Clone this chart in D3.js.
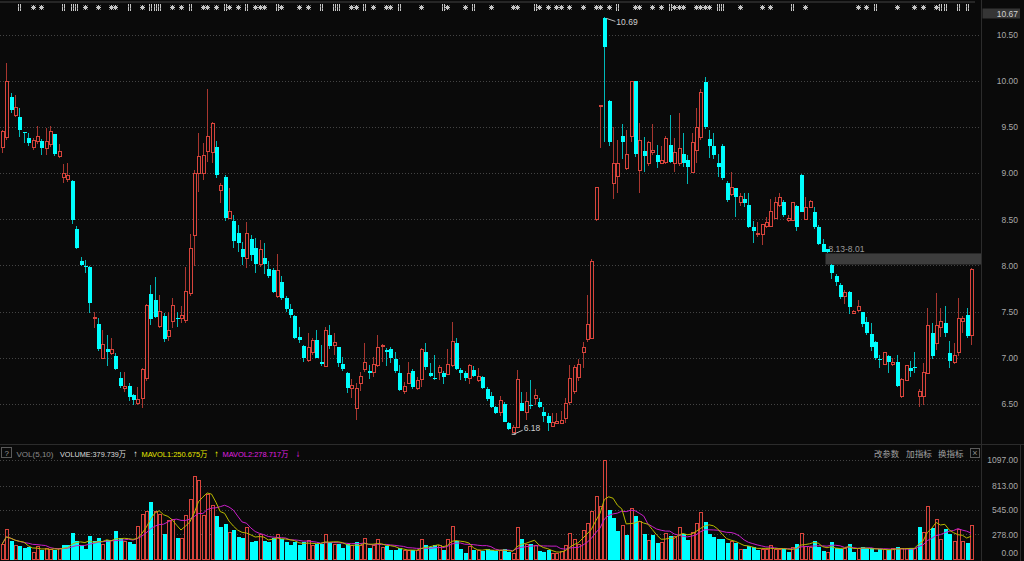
<!DOCTYPE html>
<html><head><meta charset="utf-8">
<script src="https://cdn.jsdelivr.net/npm/d3@7"></script>
<style>html,body{margin:0;padding:0;background:#0a0a0a;overflow:hidden}</style>
</head><body><svg id="c" width="1024" height="561"></svg>
<script>
const openP=[9.28,9.39,9.83,9.63,9.61,9.45,9.38,9.28,9.34,9.35,9.27,9.31,9.42,9.18,8.95,8.93,8.91,8.40,8.05,7.99,7.98,7.42,7.36,6.99,7.09,7.04,7.02,6.78,6.66,6.69,6.59,6.50,6.56,6.77,7.69,7.62,7.34,7.45,7.23,7.39,7.43,7.42,7.40,7.69,8.32,9.00,9.00,9.23,9.22,9.28,8.81,8.96,8.51,8.48,8.35,8.18,8.08,8.29,8.19,8.01,8.08,7.96,7.95,7.66,7.82,7.65,7.53,7.45,7.22,7.13,6.97,7.05,7.19,6.95,6.90,7.24,7.13,7.11,6.93,6.83,6.66,6.45,6.72,6.87,6.86,6.84,6.91,7.12,7.08,7.09,6.98,6.83,6.63,6.72,6.86,6.66,6.76,7.06,6.83,6.78,6.84,6.83,6.82,6.91,7.16,6.87,6.83,6.77,6.87,6.75,6.79,6.66,6.58,6.46,6.40,6.50,6.29,6.19,6.24,6.51,6.40,6.49,6.56,6.52,6.41,6.37,6.25,6.29,6.29,6.34,6.51,6.63,6.78,7.05,7.20,7.21,8.50,9.72,10.68,9.78,8.89,8.96,9.40,9.05,9.40,10.00,9.03,9.24,9.10,9.22,9.20,9.11,9.12,9.31,9.10,9.11,9.21,9.14,9.01,9.25,9.39,9.99,9.37,9.30,9.11,9.30,8.89,8.77,8.84,8.68,8.72,8.65,8.42,8.33,8.33,8.42,8.42,8.51,8.65,8.69,8.49,8.49,8.64,8.98,8.50,8.63,8.58,8.42,8.23,8.18,8.00,7.88,7.79,7.66,7.71,7.48,7.51,7.49,7.39,7.26,7.17,6.99,6.93,7.02,6.93,6.95,6.58,6.75,6.89,6.90,6.58,6.58,6.83,7.27,7.15,7.33,7.38,7.05,6.95,7.05,7.39,7.46,7.24];
const highP=[9.47,10.20,9.87,9.85,9.71,9.45,9.44,9.38,9.51,9.37,9.49,9.51,9.43,9.32,9.10,9.11,8.93,8.43,8.09,8.06,7.99,7.50,7.43,7.30,7.25,7.21,7.05,6.84,6.84,6.72,6.60,6.68,6.89,7.58,7.79,7.87,7.68,7.48,7.49,7.65,7.49,7.56,7.98,8.34,9.03,9.44,9.33,9.91,9.56,9.35,8.89,8.98,8.84,8.55,8.44,8.25,8.47,8.33,8.30,8.28,8.24,8.05,7.97,8.12,7.89,7.67,7.58,7.46,7.33,7.14,7.27,7.21,7.30,7.14,7.33,7.35,7.27,7.12,7.01,6.84,6.77,6.72,6.84,7.16,6.92,7.01,7.25,7.15,7.10,7.11,7.06,6.92,6.74,6.95,6.88,6.79,7.10,7.16,6.94,7.03,6.92,6.86,7.09,7.39,7.21,6.89,6.86,6.93,6.91,6.89,6.80,6.68,6.63,6.48,6.58,6.52,6.30,6.27,6.87,6.63,6.63,6.76,6.66,6.56,6.46,6.40,6.40,6.40,6.42,6.56,6.92,6.92,6.98,7.17,7.68,8.07,8.85,9.74,10.69,9.79,9.50,9.36,9.53,9.47,10.00,10.00,9.54,9.39,9.35,9.53,9.31,9.30,9.40,9.63,9.38,9.65,9.44,9.20,9.44,9.71,9.91,10.04,9.47,9.44,9.21,9.32,8.91,9.01,8.84,8.78,8.78,8.78,8.48,8.47,8.44,8.53,8.72,8.74,8.79,8.71,8.55,8.69,8.65,8.99,8.74,8.71,8.63,8.44,8.29,8.18,8.01,7.91,7.81,7.73,7.72,7.52,7.62,7.50,7.44,7.37,7.18,7.03,7.05,7.03,7.00,7.03,6.78,6.92,6.96,7.06,6.66,6.94,7.54,7.37,7.70,7.54,7.56,7.18,7.16,7.65,7.45,7.54,7.97];
const lowP=[9.22,9.36,9.65,9.61,9.39,9.33,9.30,9.25,9.32,9.20,9.20,9.28,9.19,9.17,8.89,8.90,8.45,8.18,7.99,7.92,7.48,7.32,7.07,6.98,6.91,7.03,6.87,6.67,6.63,6.53,6.49,6.49,6.45,6.75,7.35,7.43,7.32,7.17,7.18,7.32,7.33,7.38,7.38,7.67,7.99,8.80,8.93,9.12,9.11,8.95,8.68,8.48,8.51,8.19,8.14,8.00,7.97,8.05,7.92,7.98,7.91,7.86,7.70,7.65,7.63,7.50,7.43,7.20,7.16,6.95,6.95,7.03,7.00,6.91,6.90,7.09,7.03,6.90,6.85,6.62,6.56,6.32,6.64,6.84,6.77,6.79,6.90,6.95,6.91,6.94,6.83,6.64,6.60,6.71,6.66,6.65,6.68,6.87,6.79,6.76,6.76,6.71,6.81,6.90,6.87,6.76,6.75,6.71,6.79,6.73,6.66,6.53,6.45,6.39,6.37,6.30,6.21,6.18,6.24,6.42,6.32,6.44,6.49,6.45,6.30,6.20,6.25,6.29,6.28,6.29,6.49,6.60,6.75,6.89,7.17,7.20,8.48,9.27,9.34,9.30,8.72,8.79,9.15,9.04,9.34,9.18,8.79,9.01,9.08,9.20,9.06,9.10,9.10,9.11,9.01,9.08,9.07,8.88,9.00,9.11,9.36,9.48,9.17,9.15,8.96,8.93,8.69,8.75,8.53,8.64,8.63,8.41,8.24,8.31,8.22,8.41,8.42,8.51,8.63,8.53,8.47,8.48,8.37,8.58,8.49,8.62,8.40,8.22,8.14,8.13,7.85,7.78,7.64,7.58,7.47,7.47,7.50,7.33,7.25,7.07,6.97,6.89,6.92,6.83,6.91,6.68,6.56,6.75,6.79,6.83,6.46,6.49,6.83,6.99,7.08,7.22,7.22,6.89,6.93,7.02,7.27,7.21,7.14];
const closeP=[9.45,10.00,9.69,9.71,9.47,9.44,9.33,9.35,9.40,9.27,9.34,9.45,9.21,9.24,9.00,8.97,8.49,8.19,8.00,7.98,7.59,7.44,7.09,7.14,7.06,7.09,6.88,6.69,6.69,6.57,6.54,6.55,6.87,7.56,7.42,7.44,7.50,7.20,7.29,7.56,7.42,7.46,7.72,8.18,9.00,9.18,9.19,9.40,9.54,8.98,8.87,8.51,8.58,8.26,8.24,8.09,8.35,8.11,8.02,8.17,8.02,7.89,7.71,7.94,7.65,7.53,7.46,7.21,7.19,7.00,7.11,7.19,7.00,6.93,7.29,7.13,7.16,6.94,6.88,6.67,6.70,6.66,6.80,6.95,6.83,6.92,7.11,7.13,7.06,7.00,6.86,6.65,6.69,6.83,6.68,6.75,7.09,6.90,6.80,6.77,6.89,6.79,6.92,7.18,6.88,6.83,6.78,6.91,6.80,6.80,6.67,6.55,6.46,6.40,6.53,6.30,6.23,6.24,6.76,6.42,6.52,6.47,6.59,6.46,6.37,6.29,6.30,6.31,6.32,6.50,6.77,6.89,6.93,7.11,7.36,8.04,8.84,9.73,10.37,9.34,9.11,9.10,9.34,9.20,10.00,9.21,9.36,9.19,9.33,9.25,9.12,9.14,9.38,9.12,9.22,9.27,9.11,9.07,9.33,9.50,9.87,9.50,9.30,9.20,9.07,8.95,8.71,8.84,8.74,8.75,8.68,8.42,8.37,8.35,8.44,8.47,8.58,8.68,8.74,8.55,8.51,8.68,8.42,8.58,8.63,8.69,8.42,8.23,8.14,8.14,7.92,7.82,7.66,7.71,7.55,7.50,7.55,7.36,7.27,7.12,7.00,6.98,7.05,6.95,6.95,6.69,6.76,6.91,6.85,6.89,6.63,6.84,7.35,7.02,7.35,7.39,7.27,6.96,7.02,7.42,7.42,7.23,7.96];
const volume=[168,333,205,150,150,124,135,80,142,106,124,113,106,124,157,157,296,205,161,117,260,205,241,168,216,205,318,241,194,194,168,370,502,527,634,527,502,282,436,443,234,234,491,663,920,876,491,718,601,480,355,392,296,326,252,234,355,197,205,278,205,197,234,278,230,194,157,190,157,194,208,150,168,168,278,197,168,168,124,168,150,190,150,234,124,150,226,135,150,106,106,124,95,95,106,95,216,157,135,161,150,106,216,370,205,117,76,142,106,95,98,117,106,95,95,113,84,69,351,223,168,172,150,95,80,106,69,69,87,153,289,226,168,326,399,535,700,582,1097,545,454,315,380,271,564,483,417,278,205,271,179,186,289,263,252,355,282,216,300,399,516,417,282,245,223,226,179,197,179,113,113,150,135,106,113,113,157,113,106,117,87,135,172,289,142,135,205,135,98,80,197,124,113,120,168,87,124,135,124,124,87,113,113,106,124,135,117,117,124,124,362,296,590,351,443,226,333,282,197,333,197,179,379.739];
const priceTicks=[10.5,10.0,9.5,9.0,8.5,8.0,7.5,7.0,6.5];
const volTicks=[1097,813,545,278,0];
const markStar=[7,9,19,22,25,26,32,39,41,46,47,49,52,54,58,59,60,64,68,70,80,81,85,88,89,96,102,106,112,117,118,123,125,127,128,130,133,136,137,139,145,146,149,151,154,155,156,159,160,161,162,169,174,176,184,196,198,205,209,211,214];
const markBar=[4,14,16,17,29,34,35,36,43,51,56,63,73,76,77,83,91,101,108,122,141,153,164,165,181,200,215,216,219,221];
const gapRange=[8.13,8.01];
const gapStart=189;
const topLabel="10.67";

const N=closeP.length;
const svg=d3.select('#c');
const FONT="'Liberation Sans','Noto Sans CJK SC',sans-serif";
svg.append('rect').attr('width',1024).attr('height',561).attr('fill','#0a0a0a');

const step=4.365;
const x=d3.scaleBand().domain(d3.range(N)).range([-0.18,-0.18+step*N]);
const cx=i=>x(i)+x.bandwidth()/2;
const y=d3.scaleLinear().domain([6.5,10.5]).range([403.7,34.9]);
const yv=d3.scaleLinear().domain([0,1097]).range([559.6,460]);

// frames
svg.append('line').attr('x1',0).attr('x2',975).attr('y1',2).attr('y2',2).attr('stroke','#303030').attr('stroke-width',1.5);
svg.append('line').attr('x1',981.5).attr('x2',981.5).attr('y1',0).attr('y2',561).attr('stroke','#2c2c2c');
svg.append('line').attr('x1',0).attr('x2',1024).attr('y1',444.5).attr('y2',444.5).attr('stroke','#2c2c2c');
svg.append('line').attr('x1',1020.5).attr('x2',1020.5).attr('y1',444).attr('y2',561).attr('stroke','#2c2c2c');

// grid
const grid=svg.append('g');
priceTicks.forEach(t=>grid.append('line').attr('x1',0).attr('x2',980).attr('y1',Math.round(y(t))+0.5).attr('y2',Math.round(y(t))+0.5)
  .attr('stroke','#444').attr('stroke-dasharray','1,2'));
volTicks.filter(t=>t>0).forEach(t=>grid.append('line').attr('x1',0).attr('x2',980).attr('y1',Math.round(yv(t))+0.5).attr('y2',Math.round(yv(t))+0.5)
  .attr('stroke','#444').attr('stroke-dasharray','1,2'));

// price axis
const ax=svg.append('g').attr('transform','translate(1018,0)')
  .call(d3.axisRight(y).tickValues(priceTicks).tickFormat(d3.format('.2f')).tickSize(0));
ax.select('.domain').remove();
ax.selectAll('text').attr('x',0).attr('text-anchor','end').attr('fill','#a8a8a8').style('font-family',FONT).style('font-size','8.5px');
// top label
svg.append('rect').attr('x',982.5).attr('y',8.5).attr('width',37.5).attr('height',10).attr('fill','#353535');
svg.append('text').attr('x',1018).attr('y',17).attr('text-anchor','end').attr('fill','#d0d0d0').style('font-family',FONT).style('font-size','8.5px').text(topLabel);

// volume axis
const vax=svg.append('g').attr('transform','translate(1018,0)')
  .call(d3.axisRight(yv).tickValues(volTicks).tickFormat(d3.format('.2f')).tickSize(0));
vax.select('.domain').remove();
vax.selectAll('text').attr('x',0).attr('text-anchor','end').attr('fill','#a8a8a8').style('font-family',FONT).style('font-size','8.5px');
vax.selectAll('.tick').filter(d=>d===0).attr('transform','translate(0,553.5)');

// gap box
svg.append('rect').attr('x',cx(gapStart)-1.5).attr('y',y(gapRange[0])).attr('width',981-(cx(gapStart)-1.5)).attr('height',y(gapRange[1])-y(gapRange[0])).attr('fill','#3d3d3d');
svg.append('text').attr('x',cx(gapStart)+1.5).attr('y',y(gapRange[0])-1.5).attr('fill','#9a9a9a').style('font-family',FONT).style('font-size','8.5px').text(gapRange[0].toFixed(2)+'-'+gapRange[1].toFixed(2));

// candles
const RED='#d8443c',REDW='#a8362f',CY='#00ffff',CYW='#00b8b8';
const cg=svg.append('g').attr('shape-rendering','crispEdges');
for(let i=0;i<N;i++){
  const o=openP[i],c=closeP[i],h=highP[i],l=lowP[i];
  const xc=Math.round(cx(i))+0.5;
  const up=c>=o;
  const top=y(Math.max(o,c)),bot=y(Math.min(o,c));
  if(up){
    cg.append('line').attr('x1',xc).attr('x2',xc).attr('y1',y(h)).attr('y2',top).attr('stroke',REDW);
    cg.append('line').attr('x1',xc).attr('x2',xc).attr('y1',bot).attr('y2',y(l)).attr('stroke',REDW);
    if(bot-top<1.5){
      cg.append('rect').attr('x',xc-2).attr('y',top-0.5).attr('width',4).attr('height',Math.max(1,bot-top+1)).attr('fill',RED);
    } else {
      cg.append('rect').attr('x',xc-1.5).attr('y',top).attr('width',3).attr('height',bot-top).attr('fill','#0a0a0a').attr('stroke',RED);
    }
  } else {
    cg.append('line').attr('x1',xc).attr('x2',xc).attr('y1',y(h)).attr('y2',y(l)).attr('stroke',CYW);
    cg.append('rect').attr('x',xc-2).attr('y',top).attr('width',4).attr('height',Math.max(1,bot-top)).attr('fill',CY);
  }
}

// annotations: max high / min low
const iMax=d3.maxIndex(highP), iMin=d3.minIndex(lowP);
const ag=svg.append('g');
ag.append('line').attr('x1',cx(iMax)+2).attr('y1',y(highP[iMax])+1).attr('x2',cx(iMax)+11).attr('y2',y(highP[iMax])+4).attr('stroke','#bbb');
ag.append('text').attr('x',cx(iMax)+12).attr('y',y(highP[iMax])+8).attr('fill','#cfcfcf').style('font-family',FONT).style('font-size','8.5px').text(highP[iMax].toFixed(2));
ag.append('line').attr('x1',cx(iMin)+1).attr('y1',y(lowP[iMin])+1).attr('x2',cx(iMin)+10).attr('y2',y(lowP[iMin])-3).attr('stroke','#bbb');
ag.append('line').attr('x1',cx(iMin)-1).attr('y1',y(lowP[iMin])+1).attr('x2',cx(iMin)+3).attr('y2',y(lowP[iMin])+1).attr('stroke','#ddd');
ag.append('text').attr('x',cx(iMin)+11).attr('y',y(lowP[iMin])-2).attr('fill','#cfcfcf').style('font-family',FONT).style('font-size','8.5px').text(lowP[iMin].toFixed(2));

// markers
const mg=svg.append('g').attr('stroke','#c4c4c4').attr('shape-rendering','crispEdges');
markStar.forEach(i=>{
  const xc=Math.round(cx(i))+0.5, yc=7.5;
  mg.append('line').attr('x1',xc-2.5).attr('x2',xc+2.5).attr('y1',yc).attr('y2',yc);
  mg.append('line').attr('x1',xc).attr('x2',xc).attr('y1',yc-2.5).attr('y2',yc+2.5);
  mg.append('line').attr('x1',xc-2).attr('x2',xc+2).attr('y1',yc-2).attr('y2',yc+2).attr('shape-rendering','auto');
  mg.append('line').attr('x1',xc-2).attr('x2',xc+2).attr('y1',yc+2).attr('y2',yc-2).attr('shape-rendering','auto');
});
markBar.forEach(i=>{
  const xc=Math.round(cx(i));
  mg.append('line').attr('x1',xc-0.5).attr('x2',xc-0.5).attr('y1',4).attr('y2',11);
  mg.append('line').attr('x1',xc+1.5).attr('x2',xc+1.5).attr('y1',4).attr('y2',11);
  mg.append('line').attr('x1',xc-1).attr('x2',xc).attr('y1',6.5).attr('y2',6.5).attr('stroke','#888');
  mg.append('line').attr('x1',xc+1).attr('x2',xc+2).attr('y1',8.5).attr('y2',8.5).attr('stroke','#888');
});

// volume bars
const vg=svg.append('g').attr('shape-rendering','crispEdges');
for(let i=0;i<N;i++){
  const ref=i===0?openP[0]:closeP[i-1];
  const up=closeP[i]>=ref;
  const xc=Math.round(cx(i))+0.5;
  const t=yv(volume[i]), b=yv(0);
  if(up){
    vg.append('rect').attr('x',xc-1.5).attr('y',t).attr('width',3).attr('height',b-t-0.5).attr('fill','#0a0a0a').attr('stroke',RED);
  } else {
    vg.append('rect').attr('x',xc-2).attr('y',t).attr('width',4).attr('height',b-t).attr('fill',CY);
  }
}
// MA lines
const ma=(arr,n)=>arr.map((_,i)=>d3.mean(arr.slice(Math.max(0,i-n+1),i+1)));
const ma5=ma(volume,5), ma10=ma(volume,10);
const ln=d3.line().x((d,i)=>cx(i)).y(d=>yv(d));
svg.append('path').attr('d',ln(ma10)).attr('fill','none').attr('stroke','#c81ec8').attr('stroke-width',1);
svg.append('path').attr('d',ln(ma5)).attr('fill','none').attr('stroke','#b8b800').attr('stroke-width',1);

// header
const hg=svg.append('g').style('font-family',FONT).style('font-size','8px');
hg.append('rect').attr('x',1.5).attr('y',447.5).attr('width',10).attr('height',10).attr('fill','none').attr('stroke','#5a5a5a');
hg.append('text').attr('x',6.7).attr('y',456).attr('text-anchor','middle').attr('fill','#9a9a9a').style('font-size','8px').text('?');
function ht(t,x0,w,col,ff,fs){const e=hg.append('text').attr('x',x0).attr('y',456.5).attr('fill',col).text(t);
  if(w) e.attr('textLength',w).attr('lengthAdjust','spacingAndGlyphs'); if(ff) e.style('font-family',ff); if(fs) e.style('font-size',fs); return e;}
const vLast=volume[N-1];
ht('VOL(5,10)',16.5,37,'#8a8a8a');
ht('VOLUME:'+vLast.toFixed(3)+'万',60,66,'#dedede');
ht('↑',133.5,4,'#dedede',"'DejaVu Sans'",'7.5px');
ht('MAVOL1:250.675万',141.5,66,'#e8e800');
ht('↑',214.5,4,'#e8e800',"'DejaVu Sans'",'7.5px');
ht('MAVOL2:278.717万',222.5,66,'#e020e0');
ht('↓',296,4,'#e020e0',"'DejaVu Sans'",'7.5px');
ht('改参数',874,25,'#a0a0a0',null,'8.5px');
ht('加指标',906,26,'#a0a0a0',null,'8.5px');
ht('换指标',938,25.5,'#a0a0a0',null,'8.5px');
hg.append('rect').attr('x',970.5).attr('y',448.5).attr('width',9).attr('height',9).attr('fill','none').attr('stroke','#5a5a5a');
hg.append('text').attr('x',975).attr('y',456).attr('text-anchor','middle').attr('fill','#8a8a8a').style('font-size','9px').text('×');
</script>
</body></html>
